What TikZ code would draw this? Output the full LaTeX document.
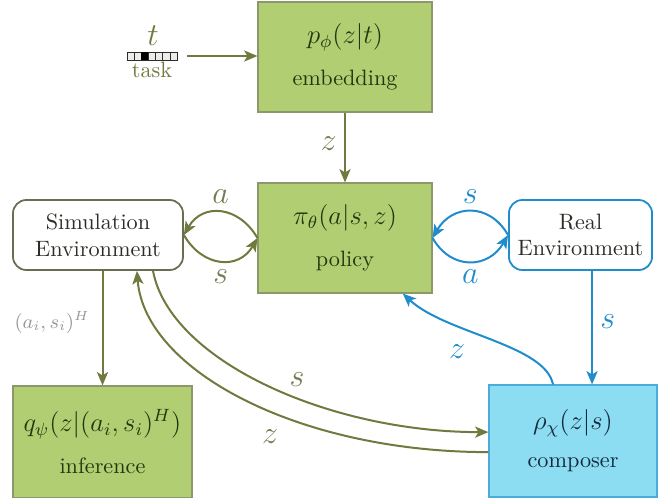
\documentclass[tikz,border=0pt]{standalone}
\usepackage{amsmath}
\usetikzlibrary{arrows.meta,calc}
\definecolor{boxgreen}{RGB}{178,206,114}
\definecolor{boxborder}{RGB}{140,152,108}
\definecolor{textgreen}{RGB}{35,55,15}
\definecolor{olivearrow}{RGB}{110,122,62}
\definecolor{envborder}{RGB}{105,110,80}
\definecolor{envtext}{RGB}{45,45,40}
\definecolor{bluearrow}{RGB}{30,140,205}
\definecolor{cyanfill}{RGB}{140,220,242}
\definecolor{navytext}{RGB}{20,40,60}
\definecolor{graylbl}{RGB}{150,150,150}
\begin{document}
\begin{tikzpicture}[x=0.45pt,y=-0.45pt,
  greenbox/.style={draw=boxborder, line width=0.5pt, fill=boxgreen, text=textgreen,
    align=center, inner sep=0pt},
  bluebox/.style={draw=bluearrow!60!cyanfill, line width=0.5pt, fill=cyanfill, text=navytext,
    align=center, inner sep=0pt},
  simenv/.style={draw=envborder, line width=0.8pt, rounded corners=6pt, fill=white,
    text=envtext, align=center, inner sep=0pt, minimum height=31.5pt},
  realenv/.style={draw=bluearrow, line width=0.8pt, rounded corners=6pt, fill=white,
    text=envtext, align=center, inner sep=0pt, minimum height=31.5pt},
  oarrow/.style={draw=olivearrow, line width=0.9pt, -{Stealth[length=6pt,width=5pt,inset=1.5pt]}},
  barrow/.style={draw=bluearrow, line width=0.9pt, -{Stealth[length=6pt,width=5pt,inset=1.5pt]}},
  olbl/.style={text=olivearrow!70!gray, font=\Large},
  blbl/.style={text=bluearrow, font=\Large},
  glbl/.style={text=graylbl, font=\small},
]
\useasboundingbox (0,0) rectangle (658,500);

% boxes
\node[greenbox, minimum width=78.3pt, minimum height=49.5pt] (emb) at (345,57)
  {{\large $p_\phi(z|t)$}\\[7pt] embedding};
\node[greenbox, minimum width=78.3pt, minimum height=49.5pt] (policy) at (345,238)
  {{\large $\pi_\theta(a|s,z)$}\\[7pt] policy};
\node[greenbox, minimum width=80.5pt, minimum height=50pt] (inf) at (102.5,441.5)
  {{\large $q_\psi(z|(a_i,s_i)^H)$}\\[7pt] inference};
\node[bluebox, minimum width=75.6pt, minimum height=50.4pt] (comp) at (573,441)
  {{\large $\rho_\chi(z|s)$}\\[5pt] composer};
\node[simenv, minimum width=76.5pt] (sim) at (98,235) {Simulation\\Environment};
\node[realenv, minimum width=64.4pt] (real) at (580.5,235) {Real\\Environment};

% task input
\node[draw=none, minimum width=22.5pt, minimum height=3.6pt, inner sep=0pt] (icon) at (152,56) {};
\foreach \i in {0,...,6}{
  \draw[envtext, line width=0.3pt, fill=gray!15] (127+\i*7.14,52) rectangle ++(7.14,8);
}
\fill[black] (127+2*7.14,52) rectangle ++(7.14,8);
\node[text=olivearrow, font=\Large] (tlbl) at (153,36) {$t$};
\node[text=olivearrow] (tasklbl) at (152,70) {task};
\draw[oarrow, shorten <=4.5pt] (icon.east) -- (emb.west |- icon.east);

% embedding -> policy
\draw[oarrow] (emb.south) -- node[olbl, left, pos=0.45] {$z$} (policy.north);

% simulation loop
\draw[oarrow] (policy.west) to[out=120,in=60,looseness=1.3] node[olbl, above] {$a$} (sim.east);
\draw[oarrow] (sim.east) to[out=-60,in=-120,looseness=1.3] node[olbl, below] {$s$} (policy.west);

% real loop
\draw[barrow] (real.west) to[out=120,in=60,looseness=1.3] node[blbl, above] {$s$} (policy.east);
\draw[barrow] (policy.east) to[out=-60,in=-120,looseness=1.3] node[blbl, below] {$a$} (real.west);

% sim -> inference
\draw[oarrow] (inf.north |- sim.south) -- node[glbl, left, pos=0.45, xshift=-2pt] {$(a_i,s_i)^H$} (inf.north);

% real -> composer
\draw[barrow] ([xshift=5.2pt]real.south) -- node[blbl, right, pos=0.45] {$s$} ([xshift=5.2pt]real.south |- comp.north);

% composer -> policy
\draw[barrow] ([xshift=-9pt]comp.north) .. controls +(-8,-40) and +(43,40) .. ([xshift=26pt]policy.south);
\node[blbl] (zc) at (457,352) {$z$};

% sim <-> composer
\draw[oarrow] ([xshift=24.75pt]sim.south) .. controls +(17,90) and +(-159,0) .. ([yshift=4pt]comp.west);
\draw[oarrow] ([yshift=-5pt]comp.west) .. controls +(-189,0) and +(8,100) .. ([xshift=17.5pt]sim.south);
\node[olbl] (sl) at (297,380) {$s$};
\node[olbl] (zl) at (270,437) {$z$};
\end{tikzpicture}
\end{document}
